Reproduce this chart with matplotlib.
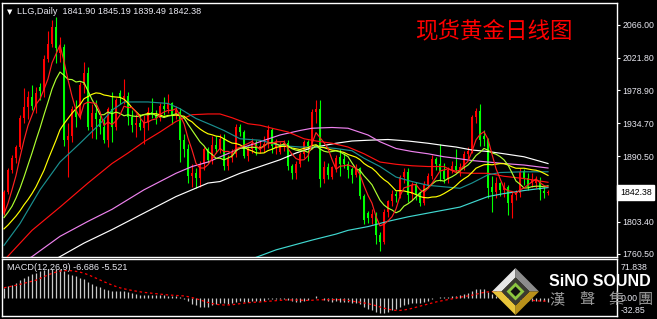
import numpy as np
import pandas as pd
import matplotlib
matplotlib.use("Agg")
import matplotlib.pyplot as plt
import matplotlib.transforms as mtransforms
from matplotlib.patches import Polygon

# ---------------- data ----------------
opens = [1815, 1843, 1872, 1888, 1903, 1941, 1956, 1970, 1957, 1983,
         1977, 2020, 2040, 2063, 2028, 2036, 1912, 1917, 1953, 1943,
         1986, 2002, 1930, 1948, 1940, 1929, 1912, 1953, 1930, 1975,
         1968, 1971, 1943, 1932, 1935, 1928, 1936, 1950, 1946, 1941,
         1958, 1953, 1961, 1946, 1950, 1912, 1900, 1864, 1868, 1862,
         1881, 1900, 1886, 1906, 1900, 1914, 1878, 1888, 1894, 1930,
         1923, 1891, 1900, 1908, 1899, 1904, 1907, 1925, 1903, 1896,
         1904, 1908, 1878, 1868, 1880, 1894, 1910, 1904, 1950, 1953,
         1860, 1877, 1863, 1876, 1890, 1887, 1880, 1874, 1866, 1875,
         1838, 1815, 1808, 1812, 1786, 1776, 1816, 1831, 1841, 1838,
         1863, 1870, 1840, 1852, 1840, 1829, 1853, 1864, 1887, 1880,
         1871, 1860, 1872, 1878, 1873, 1877, 1894, 1898, 1943, 1951,
         1918, 1913, 1850, 1843, 1855, 1846, 1850, 1828, 1839, 1842,
         1871, 1862, 1855, 1855, 1857, 1845, 1841.90]
highs = [1846, 1875, 1892, 1906, 1945, 1981, 1978, 1985, 1983, 1988,
         2025, 2058, 2072, 2076, 2050, 2040, 1935, 1958, 1965, 1990,
         2016, 2010, 1960, 1966, 1945, 1940, 1956, 1976, 1968, 1979,
         1993, 1976, 1952, 1947, 1947, 1945, 1956, 1968, 1952, 1962,
         1970, 1974, 1963, 1958, 1955, 1920, 1907, 1880, 1875, 1884,
         1903, 1903, 1917, 1918, 1920, 1920, 1893, 1900, 1934, 1934,
         1926, 1905, 1915, 1912, 1912, 1918, 1932, 1928, 1913, 1910,
         1912, 1912, 1880, 1884, 1897, 1912, 1912, 1953, 1965, 1966,
         1885, 1882, 1878, 1892, 1900, 1895, 1884, 1876, 1880, 1877,
         1840, 1818, 1820, 1816, 1790, 1820, 1833, 1846, 1845, 1866,
         1875, 1875, 1857, 1856, 1843, 1858, 1868, 1892, 1890, 1907,
         1882, 1876, 1884, 1900, 1882, 1898, 1903, 1945, 1955, 1960,
         1925, 1915, 1864, 1863, 1857, 1856, 1853, 1845, 1846, 1875,
         1874, 1868, 1868, 1865, 1863, 1850, 1845.19]
lows = [1812, 1840, 1868, 1882, 1900, 1935, 1940, 1952, 1948, 1965,
        1970, 2016, 2036, 2015, 2016, 1905, 1863, 1910, 1930, 1940,
        1975, 1925, 1915, 1914, 1920, 1908, 1903, 1910, 1925, 1960,
        1960, 1932, 1923, 1916, 1925, 1907, 1926, 1942, 1934, 1938,
        1945, 1948, 1934, 1940, 1883, 1890, 1855, 1850, 1849, 1850,
        1872, 1882, 1880, 1895, 1895, 1873, 1873, 1883, 1890, 1918,
        1888, 1885, 1895, 1893, 1895, 1896, 1902, 1895, 1894, 1894,
        1898, 1872, 1860, 1860, 1876, 1888, 1885, 1900, 1935, 1850,
        1855, 1860, 1860, 1870, 1864, 1875, 1862, 1855, 1863, 1834,
        1801, 1802, 1800, 1774, 1764, 1774, 1810, 1825, 1830, 1835,
        1855, 1830, 1832, 1833, 1824, 1826, 1848, 1860, 1872, 1858,
        1855, 1855, 1868, 1870, 1865, 1873, 1886, 1895, 1935, 1905,
        1905, 1835, 1817, 1835, 1838, 1836, 1812, 1808, 1832, 1836,
        1852, 1846, 1850, 1848, 1832, 1835, 1839.49]
closes = [1843, 1872, 1888, 1903, 1941, 1956, 1970, 1957, 1975, 1977,
          2020, 2040, 2063, 2035, 2036, 1912, 1917, 1953, 1943, 1986,
          2002, 1930, 1948, 1940, 1929, 1912, 1953, 1930, 1965, 1968,
          1971, 1943, 1932, 1935, 1929, 1936, 1950, 1946, 1941, 1958,
          1953, 1961, 1946, 1952, 1912, 1900, 1864, 1868, 1862, 1881,
          1900, 1886, 1906, 1900, 1914, 1878, 1888, 1894, 1930, 1923,
          1891, 1900, 1908, 1899, 1904, 1907, 1925, 1904, 1910, 1904,
          1908, 1878, 1868, 1880, 1894, 1910, 1904, 1950, 1953, 1860,
          1877, 1866, 1876, 1888, 1880, 1880, 1872, 1866, 1875, 1838,
          1806, 1808, 1814, 1786, 1776, 1816, 1831, 1841, 1838, 1863,
          1870, 1839, 1853, 1840, 1829, 1853, 1864, 1887, 1880, 1871,
          1860, 1872, 1878, 1873, 1877, 1894, 1898, 1943, 1951, 1912,
          1913, 1848, 1843, 1855, 1846, 1850, 1829, 1839, 1842, 1870,
          1862, 1850, 1859, 1861, 1846, 1842, 1842.38]

# warm-up values of the short averages (history before the first bar)
ma5_head = [1814, 1828, 1846, 1865]
ma10_head = [1809, 1816, 1824, 1835, 1848, 1863, 1879, 1895, 1912]
ma20_head = [1794, 1799, 1805, 1811, 1818, 1826, 1833, 1841, 1850, 1861,
             1872, 1886, 1899, 1912, 1926, 1934, 1941, 1948, 1954]

# slower averages (bar index, value)
teal_bar = [0, 4, 9, 14, 19, 24, 27, 30, 36, 41, 44, 48, 52, 55, 59, 64, 69,
            74, 79, 83, 87, 90, 94, 98, 102, 106, 110, 114, 117, 121, 124, 130, 136]
teal_val = [1772, 1801, 1846, 1883, 1908, 1934, 1952, 1963, 1963, 1961, 1954,
            1941, 1932, 1925, 1914, 1912, 1905, 1903, 1903, 1901, 1898, 1888,
            1877, 1863, 1857, 1852, 1850, 1848, 1855, 1866, 1869, 1870, 1870]
red_bar = [0, 7, 14, 21, 27, 31, 35, 39, 43, 47, 51, 54, 57, 61, 64, 67, 71,
           75, 78, 82, 86, 90, 94, 98, 102, 106, 110, 113, 117, 121, 125, 130, 136]
red_val = [1752, 1792, 1823, 1855, 1881, 1895, 1910, 1923, 1937, 1946, 1947,
           1947, 1942, 1934, 1932, 1928, 1923, 1914, 1911, 1908, 1903, 1894,
           1883, 1880, 1878, 1877, 1877, 1869, 1868, 1868, 1864, 1861, 1856]
violet_bar = [0, 7, 14, 21, 27, 35, 43, 47, 51, 55, 59, 64, 69, 74, 77, 82,
              86, 91, 94, 98, 102, 106, 110, 113, 117, 121, 125, 130, 136]
violet_val = [1735, 1757, 1784, 1804, 1820, 1846, 1868, 1877, 1883, 1892, 1901,
              1910, 1919, 1925, 1928, 1929, 1928, 1919, 1910, 1901, 1897, 1894,
              1890, 1888, 1885, 1883, 1881, 1879, 1875]
white_bar = [8, 14, 20, 27, 35, 43, 47, 51, 54, 59, 64, 69, 73, 77, 83, 87,
             91, 96, 101, 106, 110, 113, 117, 121, 125, 130, 136]
white_val = [1740, 1757, 1775, 1793, 1815, 1837, 1846, 1855, 1857, 1868, 1877,
             1886, 1895, 1902, 1908, 1911, 1912, 1913, 1911, 1908, 1905, 1903,
             1899, 1897, 1894, 1890, 1881]
cyan_bar = [60, 64, 68, 77, 83, 86, 91, 96, 101, 106, 110, 114, 117, 121, 125, 130, 136]
cyan_val = [1750, 1758, 1766, 1779, 1787, 1792, 1797, 1804, 1810, 1815, 1819,
            1823, 1829, 1837, 1841, 1845, 1849]

macd_main = [19, 22, 25, 28, 33, 37, 41, 44, 47, 49,
             51, 53, 54, 54, 53, 50, 45, 43, 40, 37,
             35, 30, 26, 23, 20, 17, 15, 13, 13, 13.5,
             13.5, 12, 10, 8, 6.5, 5.5, 5.5, 6, 5.5, 5,
             5, 4.8, 4.5, 4.4, 2, -1, -6, -10, -13, -15.6,
             -15.7, -15.9, -13.5, -11.5, -8.5, -9.5, -10, -9.5, -7.5, -6.1,
             -6.8, -6.6, -5.7, -5.7, -5.2, -4.5, -2.5, -2.5, -2.0, -1.9,
             -1.6, -3.8, -6.2, -7.2, -6.6, -4.8, -3.9, 0.5, 4.3, -0.4,
             -2.6, -5.2, -6.4, -6.2, -6.7, -7.0, -7.8, -8.7, -8.7, -11.6,
             -16.2, -19.5, -21.4, -24.8, -28.1, -27.1, -24.8, -21.9, -19.7, -15.7,
             -11.8, -11.1, -9.4, -8.9, -9.3, -7.5, -5.2, -1.5, 0.9, 2.0,
             1.9, 2.8, 3.9, 4.4, 5.1, 6.9, 8.6, 13.3, 17.6, 17.6,
             17.5, 12.0, 7.2, 4.3, 1.2, -0.9, -4.2, -5.9, -7.0, -5.5,
             -5.1, -5.5, -5.0, -4.4, -5.1, -5.9, -6.686]

price_ticks = [2066.00, 2021.80, 1978.90, 1934.70, 1890.50, 1847.60, 1803.40, 1760.50]
macd_ticks = [71.838, 0.00, -32.85]
last_price = 1842.38
header_text = "LLG,Daily  1841.90 1845.19 1839.49 1842.38"
macd_text = "MACD(12,26,9) -6.686 -5.521"
title_cn = "现货黄金日线图"

# ---------------- figure ----------------
W, H = 657, 319
fig = plt.figure(figsize=(W / 100, H / 100), dpi=100, facecolor="black")


def box(x0, y0, x1, y1):
    return [x0 / W, 1 - y1 / H, (x1 - x0) / W, (y1 - y0) / H]


TXT = "#e8e8f0"
FONT = ["Liberation Sans", "DejaVu Sans"]

ax = fig.add_axes(box(2, 3.3, 617, 256.7))
ax2 = fig.add_axes(box(2, 259, 617, 316))
for a in (ax, ax2):
    a.set_facecolor("black")
    for s in a.spines.values():
        s.set_color("white")
        s.set_linewidth(1.0)
    a.set_xticks([])
    a.set_xlim(-0.5, 153.25)

n = len(closes)
idx = np.arange(n)
o = np.array(opens, float)
c = np.array(closes, float)
hi = np.array(highs, float)
lo = np.array(lows, float)
up = c >= o
cols = np.where(up, "#ff0000", "#00ff00")

ax.vlines(idx, lo, hi, colors=cols, lw=0.8, zorder=2)
ax.bar(idx, np.maximum(np.abs(c - o), 0.8), bottom=np.minimum(o, c), width=0.72,
       color=cols, linewidth=0, zorder=3)

cs = pd.Series(c)
ma5 = cs.rolling(5).mean().to_numpy()
ma5[:len(ma5_head)] = ma5_head
ma10 = cs.rolling(10).mean().to_numpy()
ma10[:len(ma10_head)] = ma10_head
ma20 = cs.rolling(20).mean().to_numpy()
ma20[:len(ma20_head)] = ma20_head

lw = 0.85
ax.plot(cyan_bar, cyan_val, color="#40d8d0", lw=lw, zorder=4)
ax.plot(white_bar, white_val, color="#ffffff", lw=lw, zorder=4)
ax.plot(violet_bar, violet_val, color="#ee82ee", lw=lw, zorder=4)
ax.plot(red_bar, red_val, color="#ff1010", lw=lw, zorder=4)
ax.plot(teal_bar, teal_val, color="#1a8f8f", lw=lw, zorder=4)
ax.plot(idx, ma20, color="#ffff00", lw=lw, zorder=5)
ax.plot(idx, ma10, color="#adff2f", lw=lw, zorder=5)
ax.plot(idx, ma5, color="#ff2020", lw=lw, zorder=5)

ax.set_ylim(1756.9, 2094.4)
ax.yaxis.tick_right()
ax.set_yticks(price_ticks)
ax.set_yticklabels([f"{v:.2f}" for v in price_ticks])
ax.tick_params(axis="y", colors="white", labelcolor=TXT, length=2.5, width=0.8,
               pad=1.5, labelsize=6.3)
for t in ax.get_yticklabels():
    t.set_family(FONT)

ax.annotate(f"{last_price:.2f}", xy=(1, last_price), xycoords=("axes fraction", "data"),
            xytext=(2.2, 0), textcoords="offset points", ha="left", va="center",
            fontsize=6.3, family=FONT, color="black", zorder=10, annotation_clip=False,
            bbox=dict(boxstyle="square,pad=0.3", fc="white", ec="white"))

# MACD panel
ax2.set_ylim(macd_ticks[2], macd_ticks[0])
ax2.set_yticks([])
ax2.vlines(idx, 0, macd_main, colors="#c8c8c8", lw=0.9, zorder=2)
signal = pd.Series(macd_main).rolling(9, min_periods=1).mean().to_numpy()
ax2.plot(idx, signal, color="#ff0000", lw=0.9, ls=(0, (2, 2.2)), zorder=3)

tr2 = mtransforms.blended_transform_factory(ax2.transAxes, ax2.transData)
offsets = [(-6.0), 0.0, 4.0]
for v, dy in zip(macd_ticks, offsets):
    lab = f"{v:.3f}" if v == macd_ticks[0] else f"{v:.2f}"
    ax2.annotate(lab, xy=(1, v), xycoords=tr2, xytext=(2.5, dy), textcoords="offset points",
                 ha="left", va="center", fontsize=6.3, family=FONT, color=TXT,
                 annotation_clip=False)

# header texts
fig.text(7 / W, 1 - 12 / H, "\u25bc", fontsize=5, color="white", family="DejaVu Sans",
         ha="left", va="center")
fig.text(17 / W, 1 - 12 / H, header_text, fontsize=6.6, color=TXT, family=FONT,
         ha="left", va="center")
fig.text(7 / W, 1 - 268 / H, macd_text, fontsize=6.6, color=TXT, family=FONT,
         ha="left", va="center", zorder=10)
fig.text(415 / W, 1 - 31 / H, title_cn, fontsize=16.2, color="#ff0000",
         family=["Noto Sans CJK SC", "DejaVu Sans"], ha="left", va="center")

# logo overlay
lg = fig.add_axes([0, 0, 1, 1], facecolor="none", zorder=20)
lg.set_xlim(0, W)
lg.set_ylim(H, 0)
lg.axis("off")
cx, cy, R, r = 515.5, 291.5, 23.5, 14.0
T, Rt, B, L = (cx, cy - R), (cx + R, cy), (cx, cy + R), (cx - R, cy)
t, rt, b, l = (cx, cy - r), (cx + r, cy), (cx, cy + r), (cx - r, cy)
lg.add_patch(Polygon([L, T, t, l], closed=True, fc="#e6e6e6", ec="none"))
lg.add_patch(Polygon([T, Rt, rt, t], closed=True, fc="#8c8c8c", ec="none"))
lg.add_patch(Polygon([Rt, B, b, rt], closed=True, fc="#b8901a", ec="none"))
lg.add_patch(Polygon([B, L, l, b], closed=True, fc="#e8c43a", ec="none"))
lg.add_patch(Polygon([t, rt, b, l], closed=True, fc="#3a3a30", ec="none"))
g = 7.0
lg.add_patch(Polygon([(cx, cy - g), (cx + g, cy), (cx, cy + g), (cx - g, cy)], closed=True,
                     fc="#101010", ec="#8cc63f", lw=2.0))
lg.text(549, 282, "SiNO SOUND", fontsize=11.5, fontweight="bold", color="white",
        family=FONT, ha="left", va="center")
for k, ch in enumerate("漢聲集團"):
    lg.text(557 + 29.5 * k, 299.5, ch, fontsize=11, color="#9a9a9a",
            family=["Noto Sans CJK TC", "DejaVu Sans"], ha="center", va="center")

fig.savefig("out.png", dpi=100, facecolor="black")
